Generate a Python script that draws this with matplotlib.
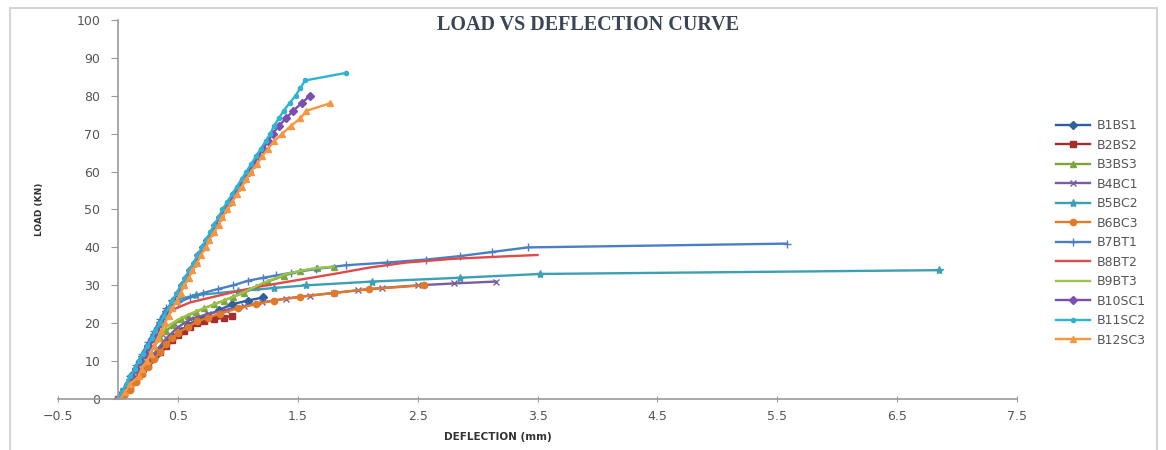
import matplotlib
matplotlib.use('Agg')
import matplotlib.pyplot as plt
from matplotlib.patches import Rectangle

# load (kN) vs deflection (mm) for 12 beams
b1bs1_x = [0, 0.04, 0.08, 0.12, 0.16, 0.2, 0.24, 0.28, 0.32, 0.36, 0.41, 0.46, 0.52, 0.58, 0.66, 0.74, 0.84, 0.95, 1.08, 1.21]
b1bs1_y = [0, 1.5, 3, 4.5, 6, 7.5, 9, 10.5, 12, 13.5, 15, 16.5, 18, 19.5, 21, 22, 23.5, 25, 26, 26.8]

b2bs2_x = [0, 0.05, 0.1, 0.15, 0.2, 0.25, 0.3, 0.35, 0.4, 0.45, 0.5, 0.55, 0.6, 0.66, 0.72, 0.8, 0.88, 0.95]
b2bs2_y = [0, 1.5, 3, 5, 7, 9, 11, 12.5, 14, 15.5, 17, 18, 19, 20, 20.5, 21, 21.5, 22]

b3bs3_x = [0, 0.04, 0.08, 0.12, 0.16, 0.2, 0.25, 0.3, 0.35, 0.4, 0.46, 0.52, 0.58, 0.65, 0.72, 0.8, 0.88, 0.96, 1.05, 1.15, 1.25, 1.38, 1.52, 1.66, 1.8]
b3bs3_y = [0, 2, 4, 6, 8, 10, 12, 14, 16, 18, 19.5, 21, 22, 23, 24, 25, 26, 27, 28, 29.5, 31, 32.5, 33.8, 34.5, 34.9]

b4bc1_x = [0, 0.1, 0.2, 0.3, 0.4, 0.5, 0.6, 0.75, 0.9, 1.05, 1.2, 1.4, 1.6, 1.8, 2.0, 2.2, 2.5, 2.8, 3.15]
b4bc1_y = [0, 4, 8, 12, 16, 19, 21, 22.5, 23.5, 24.5, 25.5, 26.5, 27.3, 28, 28.7, 29.3, 30, 30.5, 31]

b5bc2_x = [0, 0.05, 0.1, 0.15, 0.2, 0.25, 0.3, 0.35, 0.4, 0.45, 0.65, 1.0, 1.3, 1.57, 2.12, 2.85, 3.52, 6.85]
b5bc2_y = [0, 2.5, 5, 8, 11, 14, 17, 20, 23, 26, 27.4, 28.5, 29.3, 30, 31, 32, 33, 34]

b6bc3_x = [0, 0.05, 0.1, 0.15, 0.2, 0.25, 0.3, 0.35, 0.4, 0.45, 0.5, 0.58, 0.66, 0.75, 0.85, 1.0, 1.15, 1.3, 1.52, 1.8, 2.09, 2.55]
b6bc3_y = [0, 1, 2.5, 4.5, 6.5, 8.5, 10.5, 12.5, 14.5, 16, 17.5, 19, 20.5, 21.5, 22.5, 24, 25, 26, 27, 28, 29, 30]

b7bt1_x = [0, 0.05, 0.1, 0.15, 0.2, 0.25, 0.3, 0.35, 0.4, 0.5, 0.6, 0.71, 0.83, 0.96, 1.08, 1.21, 1.32, 1.44, 1.65, 1.9, 2.24, 2.57, 2.85, 3.12, 3.42, 5.58]
b7bt1_y = [0, 3, 6, 9, 12, 15, 18, 21, 24, 25.5, 26.8, 28, 29, 30, 31.2, 32, 32.6, 33.3, 34.3, 35.3, 36, 36.8, 37.7, 38.8, 40, 41]

b8bt2_x = [0, 0.1, 0.2, 0.3, 0.38, 0.45, 0.6, 0.8, 1.0, 1.2, 1.5, 1.8, 2.1, 2.4, 2.8, 3.2, 3.5]
b8bt2_y = [0, 5, 10, 16, 21, 23.5, 25.5, 27, 28.5, 29.8, 31.4, 33, 34.7, 36, 37, 37.6, 38]

b9bt3_x = [0, 0.1, 0.2, 0.3, 0.4, 0.5, 0.6, 0.8, 1.0, 1.2, 1.4, 1.6, 1.8]
b9bt3_y = [0, 4.5, 9, 14, 19, 21, 22.5, 25, 27.5, 30.5, 33, 34.3, 35]

b10sc1_x = [0, 0.04, 0.08, 0.11, 0.15, 0.18, 0.22, 0.25, 0.29, 0.32, 0.36, 0.39, 0.43, 0.46, 0.5, 0.53,
            0.57, 0.6, 0.64, 0.67, 0.71, 0.74, 0.78, 0.81, 0.85, 0.89, 0.93, 0.97, 1.01, 1.05, 1.09, 1.13,
            1.17, 1.21, 1.25, 1.29, 1.34, 1.4, 1.46, 1.53, 1.6]
b10sc1_y = [0, 2, 4, 6, 8, 10, 12, 14, 16, 18, 20, 22, 24, 26, 28, 30, 32, 34, 36, 38, 40, 42, 44, 46,
            48, 50, 52, 54, 56, 58, 60, 62, 64, 66, 68, 70, 72, 74, 76, 78, 80]

b11sc2_x = [0, 0.03, 0.07, 0.1, 0.14, 0.17, 0.21, 0.24, 0.28, 0.31, 0.35, 0.38, 0.42, 0.45, 0.49, 0.52,
            0.56, 0.59, 0.63, 0.66, 0.7, 0.73, 0.77, 0.8, 0.84, 0.87, 0.91, 0.95, 0.99, 1.03, 1.07, 1.11,
            1.15, 1.19, 1.23, 1.27, 1.3, 1.34, 1.38, 1.43, 1.48, 1.52, 1.56, 1.9]
b11sc2_y = [0, 2, 4, 6, 8, 10, 12, 14, 16, 18, 20, 22, 24, 26, 28, 30, 32, 34, 36, 38, 40, 42, 44, 46,
            48, 50, 52, 54, 56, 58, 60, 62, 64, 66, 68, 70, 72, 74, 76, 78, 80, 82, 84, 86]

b12sc3_x = [0.02, 0.06, 0.1, 0.17, 0.2, 0.24, 0.27, 0.3, 0.33, 0.36, 0.39, 0.42, 0.45, 0.49, 0.52, 0.55,
            0.59, 0.62, 0.66, 0.69, 0.73, 0.76, 0.8, 0.84, 0.87, 0.91, 0.95, 0.99, 1.03, 1.07, 1.11, 1.16,
            1.2, 1.25, 1.3, 1.37, 1.44, 1.52, 1.57, 1.77]
b12sc3_y = [0, 2, 4, 6, 8, 10, 12, 14, 16, 18, 20, 22, 24, 26, 28, 30, 32, 34, 36, 38, 40, 42, 44, 46,
            48, 50, 52, 54, 56, 58, 60, 62, 64, 66, 68, 70, 72, 74, 76, 78]

names = ['B1BS1', 'B2BS2', 'B3BS3', 'B4BC1', 'B5BC2', 'B6BC3',
         'B7BT1', 'B8BT2', 'B9BT3', 'B10SC1', 'B11SC2', 'B12SC3']
xs = [b1bs1_x, b2bs2_x, b3bs3_x, b4bc1_x, b5bc2_x, b6bc3_x,
      b7bt1_x, b8bt2_x, b9bt3_x, b10sc1_x, b11sc2_x, b12sc3_x]
ys = [b1bs1_y, b2bs2_y, b3bs3_y, b4bc1_y, b5bc2_y, b6bc3_y,
      b7bt1_y, b8bt2_y, b9bt3_y, b10sc1_y, b11sc2_y, b12sc3_y]

colors = ['#2f5f9e', '#a3302e', '#7ea43c', '#7a5da0', '#3d9fb3', '#e07a2a',
          '#4a7fc6', '#df4a4a', '#9bc54a', '#7b4fb2', '#2fb3d3', '#f7963f']
markers = ['D', 's', '^', 'x', '*', 'o', '+', None, None, 'D', 'o', '^']
msizes = [4, 5, 4.5, 4.5, 6, 4.5, 6, 0, 0, 4, 3, 4.5]

fig = plt.figure(figsize=(11.66, 4.5), dpi=100)
ax = fig.add_axes([0.050, 0.113, 0.822, 0.843])

for x, y, n, c, m, s in zip(xs, ys, names, colors, markers, msizes):
    ax.plot(x, y, color=c, lw=1.7, marker=m, markersize=s, markeredgewidth=1.0,
            markerfacecolor=c, markeredgecolor=c, label=n)

ax.set_xlim(-0.5, 7.5)
ax.set_ylim(0, 100)
ax.set_xticks([-0.5, 0.5, 1.5, 2.5, 3.5, 4.5, 5.5, 6.5, 7.5])
ax.set_yticks([0, 10, 20, 30, 40, 50, 60, 70, 80, 90, 100])
ax.spines['top'].set_visible(False)
ax.spines['right'].set_visible(False)
ax.spines['left'].set_position(('data', 0))
for sp in ['left', 'bottom']:
    ax.spines[sp].set_color('#9a9a9a')
    ax.spines[sp].set_linewidth(1.2)
ax.tick_params(axis='y', direction='out', length=5, color='#9a9a9a', labelsize=9,
               labelcolor='#555555', pad=8)
ax.tick_params(axis='x', direction='inout', length=5, color='#9a9a9a', labelsize=9,
               labelcolor='#555555', pad=5)

fig.text(0.504, 0.945, 'LOAD VS DEFLECTION CURVE', ha='center', va='center',
         family='Liberation Serif', weight='bold', fontsize=14.5, color='#3b4556')
fig.text(0.427, 0.028, 'DEFLECTION (mm)', ha='center', va='center',
         family='DejaVu Sans', weight='bold', fontsize=7.5, color='#333333')
fig.text(0.034, 0.535, 'LOAD (KN)', ha='center', va='center', rotation=90,
         family='DejaVu Sans Condensed', weight='bold', fontsize=6.5, color='#333333')

leg = fig.legend(loc='upper left', bbox_to_anchor=(0.906, 0.735), frameon=False,
                 fontsize=9, handlelength=2.7, labelspacing=0.52, handletextpad=0.5,
                 borderaxespad=0, borderpad=0)
for t in leg.get_texts():
    t.set_color('#555555')

# light grey frame round the chart
fig.patches.append(Rectangle((10 / 1166, -0.05), 1147 / 1166, 1.05 - 8 / 450,
                             transform=fig.transFigure, fill=False,
                             edgecolor='#d4d4d4', lw=1.5))

fig.savefig('out.png', dpi=100)
